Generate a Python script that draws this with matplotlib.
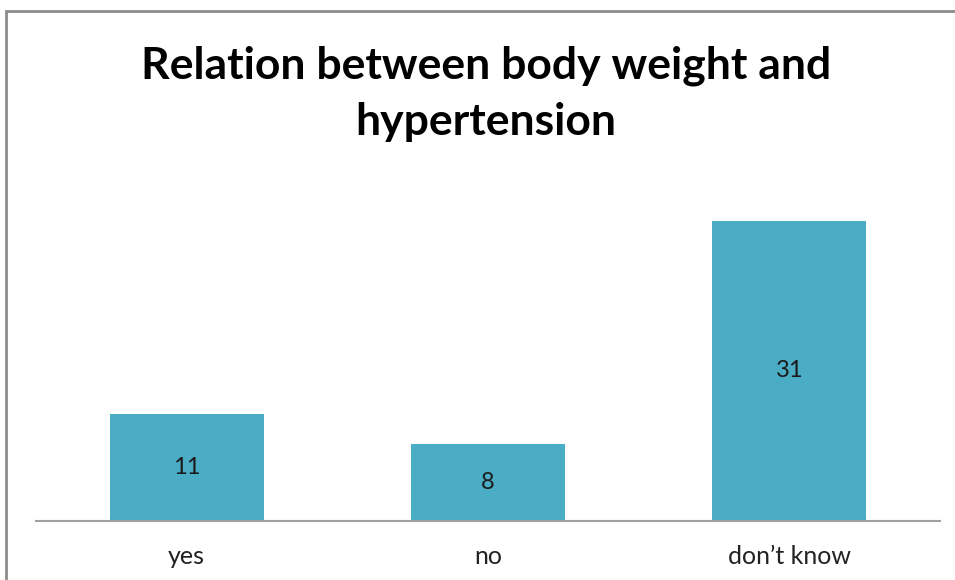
import numpy as np
import matplotlib.pyplot as plt
from matplotlib.patches import Rectangle

# data
categories = ['yes', 'no', 'don\u2019t know']
counts = [11, 8, 31]

plt.rcParams['font.family'] = ['Lato', 'DejaVu Sans']

fig = plt.figure(figsize=(9.55, 5.8), dpi=100)
ax = fig.add_axes([36 / 955, 59 / 580, 904 / 955, 339 / 580])

x = np.arange(len(categories))
bars = ax.bar(x, counts, width=0.51, color='#4bacc6', zorder=2)
for b, v in zip(bars, counts):
    ax.text(b.get_x() + b.get_width() / 2, v / 2, str(v), ha='center', va='center',
            fontsize=17, color='#1a1a1a')

ax.set_xlim(-0.5, 2.5)
ax.set_ylim(0, 35)
ax.set_yticks([])
ax.set_xticks(x)
ax.set_xticklabels(categories, fontsize=18, color='#222222')
ax.tick_params(axis='x', length=0, pad=17)
for s in ['top', 'right', 'left']:
    ax.spines[s].set_visible(False)
ax.spines['bottom'].set_color('#a0a0a0')
ax.spines['bottom'].set_linewidth(1.5)

fig.text(486 / 955, 1 - 94 / 580, 'Relation between body weight and\nhypertension', ha='center',
         va='center', fontsize=32, fontweight='bold', linespacing=1.5)

# chart border
fig.patches.append(Rectangle((6 / 955, -0.05), 1.0, 1.05 - 11 / 580, transform=fig.transFigure,
                             fill=False, edgecolor='#8c8c8c', linewidth=2))

fig.savefig('out.png', dpi=100)
